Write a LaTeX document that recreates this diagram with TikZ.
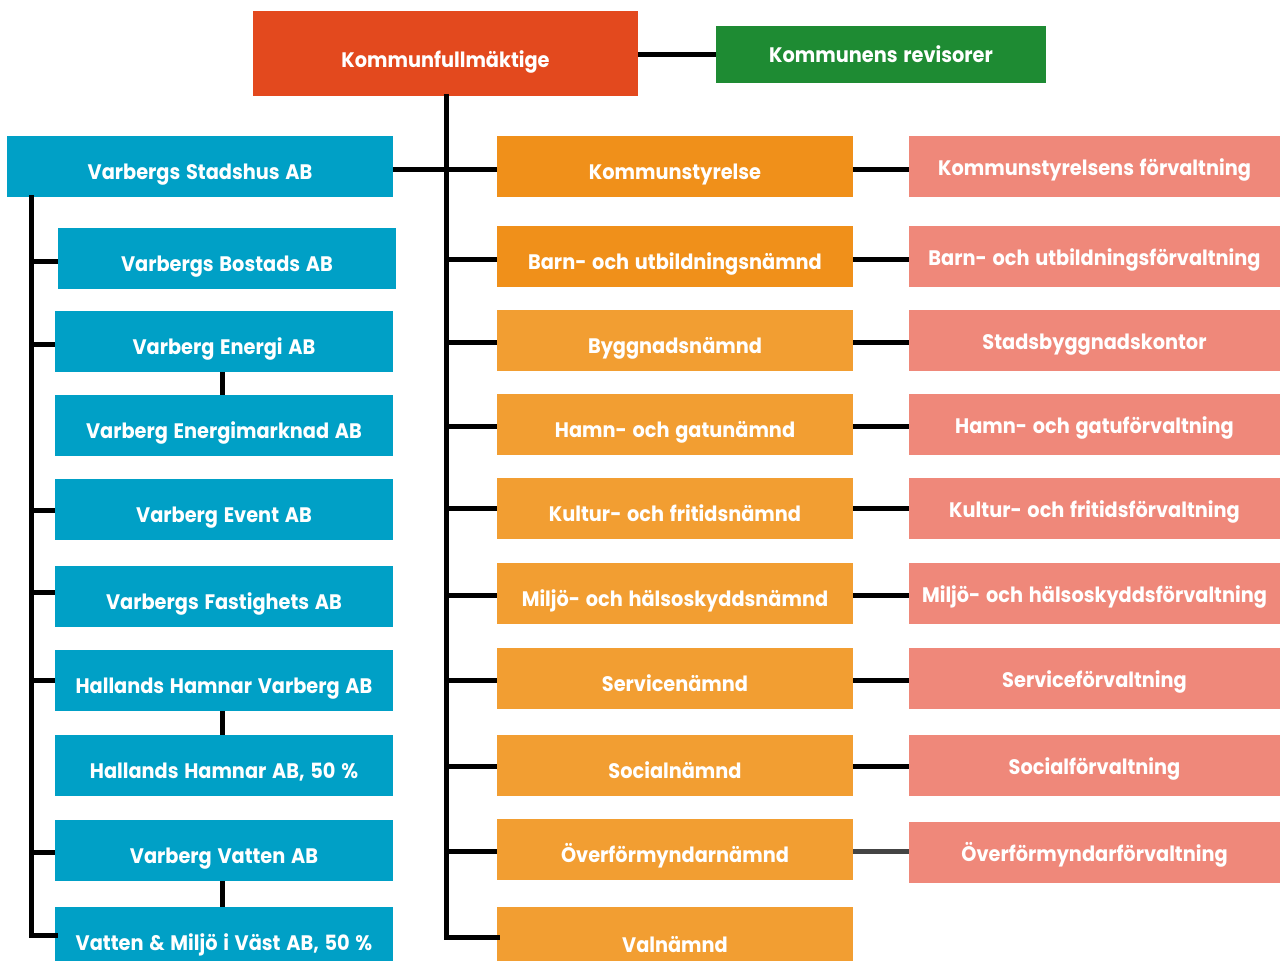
\documentclass[tikz,border=0pt]{standalone}
\usepackage{fontspec}
\setmainfont{Poppins}[FakeStretch=0.92, WordSpace=1.4]
\definecolor{kfred}{HTML}{E3491E}
\definecolor{revgreen}{HTML}{1E8B33}
\definecolor{bolblue}{HTML}{00A0C6}
\definecolor{ormdark}{HTML}{F0901A}
\definecolor{orm}{HTML}{F29E32}
\definecolor{forv}{HTML}{EF887A}
\definecolor{darkline}{HTML}{444444}
\begin{document}
\begin{tikzpicture}[x=1pt,y=-1pt,
  base/.style={rectangle, inner sep=0pt, outer sep=0pt, draw=none, text=white,
    font=\fontsize{21}{25}\selectfont\bfseries, align=center},
  low/.style={text height=26pt, text depth=0pt},
  mid/.style={text height=18pt, text depth=0pt},
  bbox/.style={base, low, fill=bolblue},
  obox/.style={base, low, fill=orm},
  odbox/.style={base, low, fill=ormdark},
  fbox/.style={base, mid, fill=forv},
  conn/.style={line width=5pt, black},
  tree/.style={line width=5pt, black, line cap=rect}]
\useasboundingbox (0,0) rectangle (1280,961);
% helper: box from x1,x2,y1,y2
\newcommand{\bx}[7]{\node[#1, minimum width={#4-#3}, minimum height={#6-#5}] (#2) at ({(#3+#4)/2},{(#5+#6)/2}) {#7};}
% top
\bx{base, fill=kfred, text height=28pt, text depth=0pt}{kf}{253}{638}{11}{96}{Kommunfullmäktige}
\bx{base, fill=revgreen, text height=16pt, text depth=0pt}{rev}{716}{1046}{26}{83}{Kommunens revisorer}
% blue
\bx{bbox}{stad}{7}{393}{136}{197}{Varbergs Stadshus AB}
\bx{bbox}{bost}{58}{396}{228}{289}{Varbergs Bostads AB}
\bx{bbox}{ener}{55}{393}{311}{372}{Varberg Energi AB}
\bx{bbox}{enm}{55}{393}{395}{456}{Varberg Energimarknad AB}
\bx{bbox}{event}{55}{393}{479}{540}{Varberg Event AB}
\bx{bbox}{fast}{55}{393}{566}{627}{Varbergs Fastighets AB}
\bx{bbox}{hhv}{55}{393}{650}{711}{Hallands Hamnar Varberg AB}
\bx{bbox}{hh}{55}{393}{735}{796}{Hallands Hamnar AB, 50 \%}
\bx{bbox}{vv}{55}{393}{820}{881}{Varberg Vatten AB}
\bx{bbox}{vmv}{55}{393}{907}{981}{}
\node[base] (vmvt) at (224,945) {Vatten \& Miljö i Väst AB, 50 \%};
% orange
\bx{odbox}{ks}{497}{853}{136}{197}{Kommunstyrelse}
\bx{odbox}{bun}{497}{853}{226}{287}{Barn- och utbildningsnämnd}
\bx{obox}{byg}{497}{853}{310}{371}{Byggnadsnämnd}
\bx{obox}{hgn}{497}{853}{394}{455}{Hamn- och gatunämnd}
\bx{obox}{kfn}{497}{853}{478}{539}{Kultur- och fritidsnämnd}
\bx{obox}{mhn}{497}{853}{563}{624}{Miljö- och hälsoskyddsnämnd}
\bx{obox}{sen}{497}{853}{648}{709}{Servicenämnd}
\bx{obox}{son}{497}{853}{735}{796}{Socialnämnd}
\bx{obox}{ofn}{497}{853}{819}{880}{Överförmyndarnämnd}
\bx{obox}{val}{497}{853}{907}{981}{}
\node[base] (valt) at (675,945) {Valnämnd};
% salmon
\bx{fbox}{ksf}{909}{1280}{136}{197}{Kommunstyrelsens förvaltning}
\bx{fbox}{buf}{909}{1280}{226}{287}{Barn- och utbildningsförvaltning}
\bx{fbox}{sbk}{909}{1280}{310}{371}{Stadsbyggnadskontor}
\bx{fbox}{hgf}{909}{1280}{394}{455}{Hamn- och gatuförvaltning}
\bx{fbox}{kff}{909}{1280}{478}{539}{Kultur- och fritidsförvaltning}
\bx{fbox}{mhf}{909}{1280}{563}{624}{Miljö- och hälsoskyddsförvaltning}
\bx{fbox}{sf}{909}{1280}{648}{709}{Serviceförvaltning}
\bx{fbox}{socf}{909}{1280}{735}{796}{Socialförvaltning}
\bx{fbox}{ofv}{909}{1280}{822}{883}{Överförmyndarförvaltning}
% connectors top
\draw[conn] (kf.east |- rev.west) -- (rev.west);
\coordinate (tbot) at (446,937);
\draw[tree] (kf.south -| tbot) -- (tbot) -- (tbot -| val.west);
\foreach \n/\y in {ks/169.5, bun/259.5, byg/342.5, hgn/426, kfn/508, mhn/595, sen/680, son/766, ofn/851}{
  \coordinate (o\n) at (446,\y);
  \draw[conn] (o\n) -- (o\n -| \n.west);
}
\draw[conn] (stad.east |- oks) -- (oks);
\foreach \a/\b/\y in {ks/ksf/169, bun/buf/259.5, byg/sbk/342.5, hgn/hgf/426, kfn/kff/508, mhn/mhf/595, sen/sf/680, son/socf/766}{
  \coordinate (f\a) at (853,\y);
  \draw[conn] (f\a) -- (f\a -| \b.west);
}
\coordinate (fofn) at (853,851);
\draw[conn, darkline] (fofn) -- (fofn -| ofv.west);
% left tree
\coordinate (ltop) at (31,197);
\coordinate (lbot) at (31,935);
\draw[tree] (ltop) -- (lbot) -- (lbot -| vmv.west);
\foreach \n/\y in {bost/261, ener/344.5, event/510.5, fast/592, hhv/680, vv/852}{
  \coordinate (l\n) at (31,\y);
  \draw[conn] (l\n) -- (l\n -| \n.west);
}
\draw[conn] (ener.south -| 222,0) -- (enm.north -| 222,0);
\draw[conn] (hhv.south -| 222,0) -- (hh.north -| 222,0);
\draw[conn] (vv.south -| 222,0) -- (vmv.north -| 222,0);
\end{tikzpicture}
\end{document}
